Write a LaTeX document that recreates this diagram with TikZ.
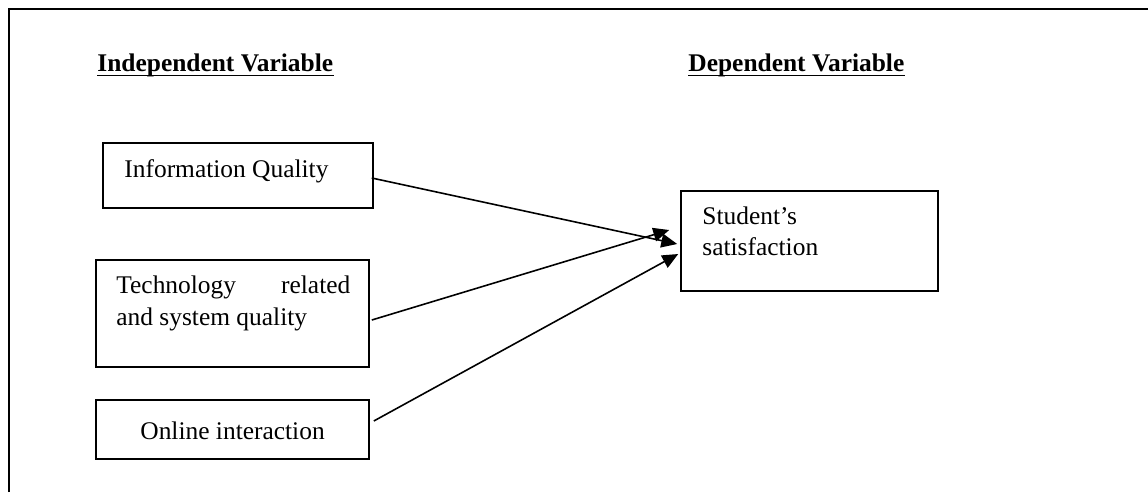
\documentclass[tikz,border=0pt]{standalone}
\usepackage{fontspec}
\setmainfont{Liberation Serif}
\usetikzlibrary{arrows.meta,calc,fit}
\begin{document}
\begin{tikzpicture}[x=0.472pt,y=-0.472pt,
  box/.style={draw, line width=0.75pt, inner sep=0pt, rectangle},
  txt/.style={inner sep=0pt, anchor=base west, font=\fontsize{12}{14}\selectfont},
  hd/.style={inner sep=0pt, anchor=base west, font=\fontsize{12}{14}\selectfont\bfseries},
  link/.style={line width=0.75pt, -{Triangle[length=7.5pt,width=6.5pt]}}]
\useasboundingbox (0,0) rectangle (1148,492);
\draw[line width=1pt] (9,492) -- (9,9) -- (1148,9);

% headings
\node[hd] (ivh) at (97,71) {Independent Variable};
\draw[line width=0.9pt] ($(ivh.base west)+(0,4.5)$) -- ($(ivh.base east)+(0,4.5)$);
\node[hd] (dvh) at (688,71) {Dependent Variable};
\draw[line width=0.9pt] ($(dvh.base west)+(0,4.5)$) -- ($(dvh.base east)+(0,4.5)$);

% boxes
\node[box, fit={(103,143) (373,208)}] (iq) {};
\node[box, fit={(96,260) (369,367)}] (tech) {};
\node[box, fit={(96,400) (369,459)}] (oi) {};
\node[box, fit={(681,191) (938,291)}] (ss) {};

% texts
\node[txt] (iqt) at (124,177) {Information Quality};
\node[txt] (tt1) at (116,293) {\makebox[110.4pt][s]{Technology\hfill related}};
\node[txt] (tt2) at (116,325) {and system quality};
\node[txt] (oit) at (140,439) {Online interaction};
\node[txt] (sst1) at (702,224) {Student’s};
\node[txt] (sst2) at (702,255) {satisfaction};

% connectors
\draw[link] ($(iq.east)+(-2,2.5)$) -- ($(ss.west)+(-3,3)$);
\draw[link] ($(tech.east)+(2,6.5)$) -- ($(ss.west)+(-11,-11)$);
\draw[link] ($(oi.east)+(4,-8.5)$) -- ($(ss.west)+(-2,13)$);
\end{tikzpicture}
\end{document}
